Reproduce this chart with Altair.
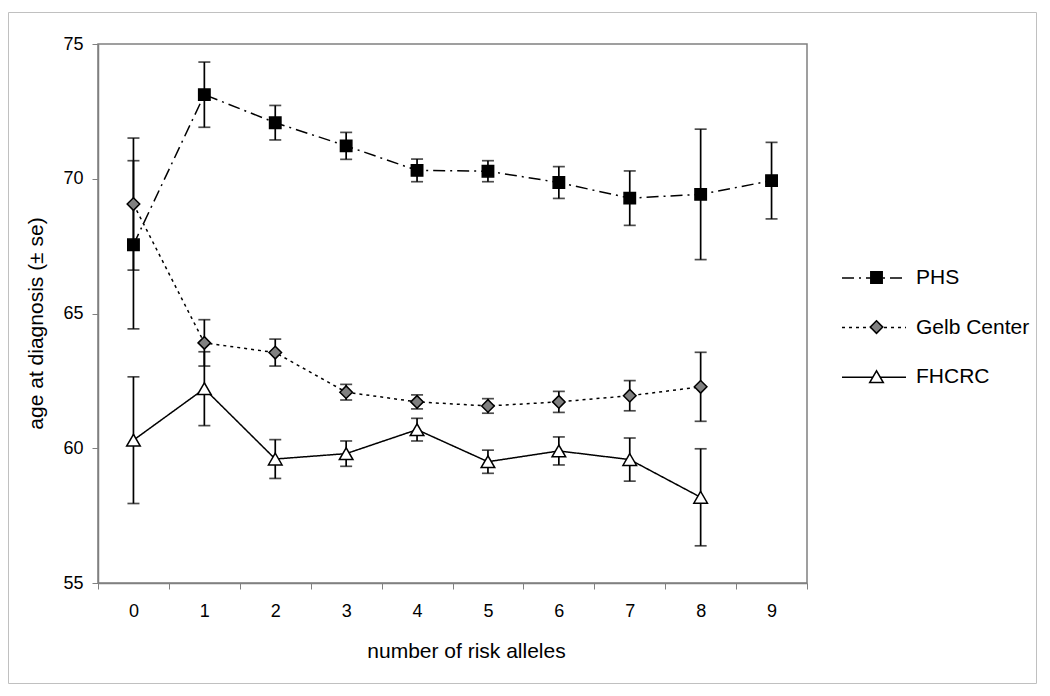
import altair as alt
import pandas as pd

# ---- data ----
alleles = list(range(10))
series_names = ["PHS", "Gelb Center", "FHCRC"]

phs_mean = [67.55, 73.12, 72.08, 71.22, 70.31, 70.28, 69.86, 69.28, 69.42, 69.93]
phs_se = [3.12, 1.21, 0.64, 0.50, 0.42, 0.39, 0.59, 1.01, 2.42, 1.42]

gelb_mean = [69.06, 63.91, 63.55, 62.08, 61.72, 61.57, 61.72, 61.95, 62.28]
gelb_se = [2.45, 0.86, 0.50, 0.29, 0.26, 0.27, 0.39, 0.56, 1.28]

fh_mean = [60.30, 62.21, 59.60, 59.80, 60.69, 59.50, 59.90, 59.58, 58.18]
fh_se = [2.35, 1.37, 0.72, 0.47, 0.42, 0.43, 0.52, 0.80, 1.80]

y_ticks = [55, 60, 65, 70, 75]

rows = []
for name, order, means, ses in [("PHS", 0, phs_mean, phs_se),
                                ("Gelb Center", 1, gelb_mean, gelb_se),
                                ("FHCRC", 2, fh_mean, fh_se)]:
    for a, m, s in zip(alleles, means, ses):
        rows.append({"series": name, "order": order, "alleles": a, "mean": m, "se": s})
df = pd.DataFrame(rows)

# ---- styles ----
marker_shapes = ["square", "diamond", "triangle-up"]
marker_fills = ["black", "#808080", "white"]
marker_strokes = ["black", "black", "black"]
marker_sizes = [130, 185, 215]
dashes = [[12, 5, 2, 5], [3, 4], [1, 0]]

FONT = "Liberation Sans"

x_enc = alt.X(
    "alleles:O",
    scale=alt.Scale(type="band", domain=alleles, paddingInner=0, paddingOuter=0),
    axis=alt.Axis(
        title="number of risk alleles", labelAngle=0, tickBand="extent",
        labelFontSize=18, labelPadding=13, tickSize=6,
        titleFontSize=21, titleFontWeight="normal", titleX=368, titleY=74,
        titleAlign="center", titleBaseline="alphabetic", grid=False,
    ),
)

y_scale = alt.Scale(domain=[55, 75], nice=False, zero=False)
y_axis = alt.Axis(
    values=y_ticks, tickSize=6, labelFontSize=18, labelPadding=9,
    title="age at diagnosis (± se)", titleFontSize=21, titleFontWeight="normal",
    titleX=-62, titleY=279, titleAngle=-90, titleAlign="center",
    titleBaseline="middle", grid=False,
)


def yq(field):
    return alt.Y(f"{field}:Q", scale=y_scale, axis=y_axis)


base = alt.Chart(df).transform_calculate(
    lo="datum.mean - datum.se", hi="datum.mean + datum.se"
)

err = base.mark_rule(color="black", strokeWidth=1.7).encode(
    x=x_enc, y=yq("lo"), y2="hi:Q"
)
cap_lo = base.mark_tick(color="black", thickness=1.7, size=12).encode(
    x=x_enc, y=yq("lo")
)
cap_hi = base.mark_tick(color="black", thickness=1.7, size=12).encode(
    x=x_enc, y=yq("hi")
)

# legend A: the line styles + labels (drawn underneath)
leg_lines = alt.Legend(
    title=None, orient="none", legendX=743, legendY=201, padding=0,
    symbolType="stroke", symbolSize=4096, symbolStrokeWidth=1.5,
    symbolStrokeColor="black", labelFontSize=21, labelFont=FONT,
    labelColor="black", labelOffset=9, rowPadding=6.6, labelLimit=300, zindex=1,
)
# legend B: the markers (drawn on top, labels hidden)
leg_marks = alt.Legend(
    title=None, orient="none", legendX=768, legendY=223, padding=0,
    symbolStrokeWidth=1.5, symbolStrokeColor="black",
    labelFontSize=21, labelFont=FONT, labelColor="transparent", labelOffset=30,
    rowPadding=27.6, labelLimit=300, zindex=2,
)

lines = base.mark_line(color="black", strokeWidth=1.5).encode(
    x=x_enc,
    y=yq("mean"),
    strokeDash=alt.StrokeDash(
        "series:N",
        sort=alt.EncodingSortField("order", op="min"),
        scale=alt.Scale(range=dashes),
        legend=leg_lines,
    ),
)

points = base.mark_point(
    filled=True, strokeWidth=1.5, opacity=1
).encode(
    x=x_enc,
    y=yq("mean"),
    shape=alt.Shape("series:N", scale=alt.Scale(domain=series_names, range=marker_shapes), legend=leg_marks),
    fill=alt.Fill("series:N", scale=alt.Scale(domain=series_names, range=marker_fills), legend=leg_marks),
    stroke=alt.Stroke("series:N", scale=alt.Scale(domain=series_names, range=marker_strokes), legend=leg_marks),
    size=alt.Size("series:N", scale=alt.Scale(domain=series_names, range=marker_sizes), legend=leg_marks),
)

frame = alt.Chart(alt.Data(values=[{}])).mark_rect(
    fill="transparent", stroke="#c0c0c0", strokeWidth=1
).encode(
    x=alt.value(-89.5), x2=alt.value(938.5), y=alt.value(-31.5), y2=alt.value(639.5)
)

chart = alt.layer(frame, err, cap_lo, cap_hi, lines, points).properties(
    width=709, height=539,
    autosize=alt.AutoSizeParams(type="none"),
    padding={"left": 90, "top": 36, "right": 234, "bottom": 104},
    background="white",
).configure_view(
    stroke="#808080", strokeWidth=1.5
).configure_axis(
    domainColor="#808080", domainWidth=1.5, tickColor="#808080", tickWidth=1,
    labelColor="black", titleColor="black", labelFont=FONT, titleFont=FONT,
).configure_legend(
    labelFont=FONT
)

chart.save("out.html", embed_options={"renderer": "svg", "actions": False})
